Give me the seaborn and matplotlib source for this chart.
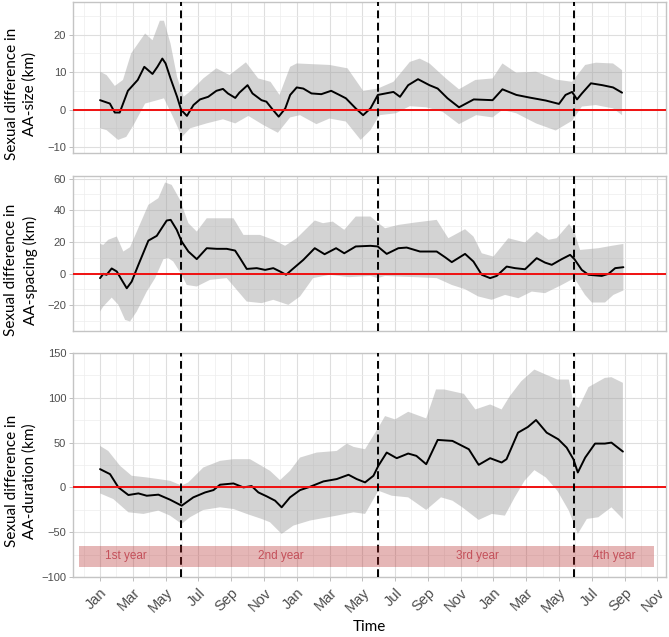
import numpy as np
import matplotlib
matplotlib.use("Agg")
import matplotlib.pyplot as plt
import seaborn as sns

# x values are months since January of the first year (0 = Jan, 12 = next Jan)

# AA-size panel
size_mean_m = [0, 0.6, 0.9, 1.2, 1.7, 2.3, 2.7, 3.2, 3.5, 3.8, 4.0, 4.3, 4.7, 4.95, 5.3,
               5.7, 6.1, 6.6, 7.1, 7.5, 7.8, 8.25, 8.5, 9.0, 9.3, 9.85, 10.15, 10.55, 10.9,
               11.3, 11.6, 12.0, 12.4, 12.9, 13.5, 14.1, 14.6, 15.0, 15.6, 16.05, 16.5,
               16.95, 17.9, 18.3, 18.8, 19.4, 20.1, 20.6, 21.2, 21.9, 22.8, 23.95, 24.55,
               25.4, 26.2, 27.2, 28.0, 28.4, 28.8, 29.1, 29.4, 29.95, 30.65, 31.3, 31.85]
size_mean = [2.5, 1.6, -0.8, -0.8, 5.0, 7.9, 11.4, 9.5, 11.4, 13.6, 12.3, 8.3, 3.4, -0.1, -1.7,
             1.2, 2.7, 3.4, 5.0, 5.5, 4.3, 3.1, 4.5, 6.5, 4.3, 2.5, 2.1, -0.1, -1.9,
             0.3, 3.9, 5.9, 5.6, 4.3, 4.1, 5.0, 3.9, 3.0, 0.3, -1.5, 0.3,
             3.9, 4.7, 3.4, 6.5, 8.1, 6.5, 5.6, 3.0, 0.6, 2.7, 2.5, 5.4,
             3.9, 3.2, 2.4, 1.5, 3.9, 4.7, 2.7, 4.3, 7.0, 6.5, 5.9, 4.5]
size_up_m = [0, 0.4, 0.9, 1.4, 1.9, 2.75, 3.2, 3.65, 3.9, 4.3, 4.7, 5.1, 5.6, 6.3, 7.1, 7.9,
             8.9, 9.65, 10.4, 10.95, 11.6, 12.0, 14.0, 15.1, 16.05, 16.95, 17.9, 18.9, 19.5,
             20.1, 21.1, 21.9, 22.9, 23.95, 24.55, 25.4, 26.6, 27.8, 28.8, 29.6, 30.25, 31.3, 31.85]
size_up = [10.1, 9.2, 6.3, 7.9, 15.0, 20.3, 18.5, 23.7, 23.7, 17.6, 8.7, 3.4, 5.2, 8.3, 11.0, 9.2,
           12.6, 8.3, 7.4, 3.9, 11.4, 12.3, 11.9, 11.0, 5.0, 5.6, 7.4, 12.7, 13.6,
           12.3, 8.3, 5.4, 7.9, 8.3, 12.3, 9.8, 10.1, 8.0, 7.4, 11.9, 12.5, 12.3, 10.5]
size_lo_m = [0, 0.4, 1.1, 1.6, 2.05, 2.75, 3.5, 3.9, 4.4, 5.0, 5.5, 6.5, 7.5, 8.25, 9.05, 9.95,
             10.85, 11.6, 12.2, 13.2, 14.0, 15.0, 15.9, 16.5, 17.05, 18.05, 18.9, 19.9, 20.9,
             21.9, 22.95, 23.95, 24.55, 25.4, 26.6, 27.8, 28.8, 29.4, 30.25, 31.3, 31.85]
size_lo = [-5.0, -5.5, -8.1, -7.3, -4.1, 1.6, 2.5, 3.0, -1.5, -7.3, -5.0, -3.7, -2.6, -3.7, -1.7, -4.1,
           -6.2, -2.1, -1.5, -3.9, -2.4, -3.2, -8.1, -5.5, -1.5, -1.0, 0.9, 0.6, -0.6,
           -3.9, -1.5, -2.1, -0.1, -1.0, -3.7, -5.6, -3.0, 0.8, 1.2, 0.3, -1.5]

# AA-spacing panel
sp_mean_m = [0, 0.2, 0.4, 0.71, 1.02, 1.32, 1.63, 1.93, 2.34, 2.95, 3.46, 3.76, 4.07, 4.31, 4.68,
             4.98, 5.39, 5.9, 6.51, 7.12, 7.73, 8.24, 8.54, 8.95, 9.56, 10.07, 10.57, 10.98, 11.35,
             11.69, 12.4, 13.1, 13.7, 14.4, 14.9, 15.6, 16.5, 16.94, 17.49, 18.2, 18.71, 19.52,
             20.54, 21.05, 21.46, 22.27, 22.78, 23.29, 23.8, 24.2, 24.81, 25.32, 25.93, 26.64,
             27.15, 27.56, 28.17, 28.68, 28.94, 29.39, 29.8, 30.61, 31.02, 31.43, 31.93]
sp_mean = [-2.9, -0.2, -0.8, 3.2, 1.3, -4.0, -9.3, -5.1, 5.5, 20.8, 23.8, 28.6, 33.5, 33.9, 27.6,
           20.2, 13.9, 9.1, 16.0, 15.6, 15.6, 14.5, 9.7, 2.9, 3.4, 2.3, 3.4, 1.3, -0.8,
           2.3, 8.6, 16.0, 12.2, 16.0, 12.8, 17.1, 17.5, 17.1, 12.4, 16.0, 16.4, 13.9,
           13.9, 10.3, 7.2, 12.4, 7.6, -0.8, -2.9, -1.5, 4.4, 3.4, 2.7, 9.7,
           6.9, 5.5, 9.1, 11.8, 9.1, 2.3, -0.8, -1.5, -0.2, 3.4, 4.0]
sp_up_m = [0, 0.2, 0.5, 1.02, 1.42, 1.83, 2.95, 3.56, 3.97, 4.37, 4.88, 5.39, 5.9, 6.51, 7.12,
           8.14, 8.75, 9.76, 10.57, 11.29, 12.0, 13.1, 13.6, 14.2, 14.9, 15.6, 16.5, 16.94, 17.39,
           18.2, 19.22, 20.54, 21.25, 22.27, 22.78, 23.29, 24.0, 24.91, 25.93, 26.64, 27.36,
           27.86, 28.62, 28.94, 29.29, 30.41, 31.22, 31.93]
sp_up = [18.7, 18.1, 21.3, 23.4, 13.9, 16.6, 43.4, 47.6, 57.5, 56.0, 46.5, 31.8, 26.5, 34.9, 34.9,
         34.9, 24.4, 24.4, 21.3, 17.5, 22.3, 33.5, 31.8, 32.8, 27.6, 36.0, 36.0, 32.2, 28.6,
         30.7, 32.2, 33.9, 22.3, 28.0, 23.4, 12.8, 10.7, 22.3, 19.6, 26.5, 21.3,
         22.3, 31.4, 25.9, 14.9, 16.0, 17.5, 18.7]
sp_lo_m = [0, 0.2, 0.71, 1.12, 1.53, 1.83, 2.24, 2.85, 3.36, 3.87, 4.17, 4.47, 4.98, 5.29, 5.9,
           6.71, 7.73, 8.34, 8.95, 9.86, 10.57, 11.49, 12.2, 13.0, 14.0, 15.2, 16.5, 16.94, 17.39,
           18.2, 19.22, 20.54, 21.46, 22.27, 23.08, 23.9, 24.71, 25.52, 26.34, 27.15, 28.17,
           28.94, 29.59, 30.0, 30.81, 31.32, 31.93]
sp_lo = [-24.0, -20.8, -15.2, -19.8, -29.3, -30.3, -24.0, -11.4, -2.9, 9.1, 9.7, 7.6, -0.8, -7.2, -8.2,
         -4.0, -2.9, -10.3, -17.7, -18.7, -16.6, -19.8, -14.5, -2.9, -0.8, -2.3, -1.5, -2.9, -1.5,
         -1.9, -2.3, -2.9, -7.2, -9.9, -14.5, -16.6, -13.5, -15.6, -11.4, -12.4, -7.2,
         -2.9, -13.5, -18.3, -18.3, -13.5, -10.7]

# AA-duration panel
dur_mean_m = [0, 0.61, 1.12, 1.73, 2.34, 2.85, 3.56, 4.27, 4.98, 5.69, 6.41, 6.92, 7.32, 8.14, 8.75,
              9.25, 9.66, 10.17, 10.68, 11.08, 11.59, 12.2, 12.81, 13.63, 14.44, 15.16, 15.66, 16.17,
              16.68, 16.98, 17.49, 18.1, 18.8, 19.3, 19.9, 20.6, 21.5, 22.5, 23.1, 23.8, 24.5, 24.8,
              25.5, 26.1, 26.6, 27.25, 27.96, 28.47, 28.88, 29.15, 29.6, 30.2, 30.8, 31.2, 31.9]
dur_mean = [20.4, 14.8, 0.0, -8.5, -6.7, -9.3, -8.1, -13.7, -20.4, -11.1, -5.6, -3.0, 3.0, 4.4, 0.0,
            1.5, -5.6, -10.0, -14.8, -22.2, -11.1, -3.0, 0.7, 6.7, 9.3, 14.1, 9.3, 5.6,
            13.0, 24.1, 38.9, 32.6, 37.8, 35.2, 25.9, 53.0, 51.9, 42.6, 25.2, 32.6, 27.8, 31.5,
            61.1, 67.4, 75.2, 61.1, 53.7, 44.4, 31.5, 16.7, 33.3, 48.9, 48.9, 50.0, 40.0]
dur_up_m = [0, 0.5, 1.22, 1.93, 2.85, 3.56, 4.27, 4.98, 5.39, 6.3, 7.32, 8.14, 9.15, 10.37, 10.98,
            11.59, 12.2, 13.22, 14.44, 15.06, 15.47, 16.17, 16.98, 17.39, 18.0, 18.8, 19.9, 20.5,
            21.0, 22.2, 22.9, 23.8, 24.5, 25.0, 25.7, 26.5, 27.2, 27.9, 28.6, 28.9, 29.2, 29.8,
            30.8, 31.2, 31.9]
dur_up = [46.3, 40.7, 24.1, 13.0, 11.1, 9.3, 7.4, 2.0, 5.6, 22.2, 29.6, 31.5, 31.5, 18.5, 8.1,
          18.5, 33.3, 38.9, 40.7, 48.9, 45.2, 42.6, 66.7, 79.6, 75.9, 84.4, 77.0, 109.3,
          109.3, 104.4, 87.0, 92.6, 87.0, 101.9, 118.5, 131.5, 125.9, 120.4, 120.4, 92.6, 88.9, 111.9,
          122.2, 123.0, 116.7]
dur_lo_m = [0, 0.81, 1.73, 2.65, 3.56, 4.27, 4.98, 5.49, 6.3, 7.32, 8.14, 8.95, 9.86, 10.37, 11.08,
            11.8, 12.81, 14.44, 15.47, 16.17, 16.98, 17.8, 18.8, 19.9, 20.8, 21.5, 22.1, 23.1, 23.9,
            24.7, 25.3, 25.9, 26.5, 27.2, 27.9, 28.6, 29.15, 29.7, 30.4, 31.2, 31.9]
dur_lo = [-6.7, -13.0, -27.8, -29.6, -25.9, -31.5, -40.7, -33.3, -25.2, -22.2, -24.1, -29.6, -35.2, -38.9, -51.9,
          -42.6, -37.0, -31.5, -27.8, -29.6, -3.7, -9.3, -11.1, -25.2, -11.1, -14.8, -22.2, -36.3, -29.6,
          -31.5, -11.1, 7.4, 19.3, 11.1, -3.7, -25.9, -51.9, -35.2, -33.3, -22.2, -35.2]

month_ticks = list(range(0, 36, 2))
month_labels = ['Jan', 'Mar', 'May', 'Jul', 'Sep', 'Nov'] * 3
breeding_breaks = [4.93, 16.93, 28.9]
year_labels = ['1st year', '2nd year', '3rd year', '4th year']
year_label_m = [1.6, 11.0, 23.0, 31.35]

panels = [
    dict(mean=(size_mean_m, size_mean), up=(size_up_m, size_up), lo=(size_lo_m, size_lo),
         title='Sexual difference in\nAA-size (km)', ylim=(-11.6, 28.7),
         major=[-10, 0, 10, 20], minor=[-5, 5, 15, 25],
         rect=[73, 2, 666, 153], title_y=94),
    dict(mean=(sp_mean_m, sp_mean), up=(sp_up_m, sp_up), lo=(sp_lo_m, sp_lo),
         title='Sexual difference in\nAA-spacing (km)', ylim=(-36.3, 61.6),
         major=[-20, 0, 20, 40, 60], minor=[-30, -10, 10, 30, 50],
         rect=[73, 176, 666, 331], title_y=270),
    dict(mean=(dur_mean_m, dur_mean), up=(dur_up_m, dur_up), lo=(dur_lo_m, dur_lo),
         title='Sexual difference in\nAA-duration (km)', ylim=(-100, 149.2),
         major=[-100, -50, 0, 50, 100, 150], minor=[-75, -25, 25, 75, 125],
         rect=[73, 353, 666, 577], title_y=481),
]

W, H = 669, 637
sns.set_theme(style="whitegrid")
plt.rcParams['font.family'] = ['Liberation Sans', 'DejaVu Sans']

fig = plt.figure(figsize=(W / 100, H / 100), dpi=100)
fig.patch.set_facecolor('white')

for i, p in enumerate(panels):
    x0, y0, x1, y1 = p['rect']
    ax = fig.add_axes([x0 / W, 1 - y1 / H, (x1 - x0) / W, (y1 - y0) / H])
    ax.set_facecolor('white')
    ax.set_axisbelow(True)

    # confidence ribbon
    up_m, up = p['up']
    lo_m, lo = p['lo']
    ax.fill(np.r_[up_m, lo_m[::-1]], np.r_[up, lo[::-1]],
            color='#a8a8a8', alpha=0.5, lw=0, zorder=1)

    mx, my = p['mean']
    sns.lineplot(x=mx, y=my, ax=ax, color='black', lw=1.4, sort=False,
                 estimator=None, zorder=3)
    ax.axhline(0, color='#f01010', lw=1.4, zorder=4)
    for b in breeding_breaks:
        ax.axvline(b, color='black', lw=1.4, ls=(0, (4, 2.3)), zorder=5)

    ax.set_xlim(-1.65, 34.53)
    ax.set_ylim(*p['ylim'])
    ax.set_xticks(month_ticks)
    ax.set_xticks(np.arange(-1, 35, 2), minor=True)
    ax.set_yticks(p['major'])
    ax.set_yticks(p['minor'], minor=True)
    ax.grid(which='major', color='#DEDEDE', lw=0.8)
    ax.grid(which='minor', color='#EDEDED', lw=0.5)
    ax.tick_params(which='minor', length=0)
    ax.tick_params(axis='y', which='major', left=True, length=2.75, width=0.6,
                   color='#B3B3B3', labelsize=8, labelcolor='#4D4D4D', pad=2.2)
    for s in ax.spines.values():
        s.set_color('#C4C4C4')
        s.set_linewidth(1.0)
    ax.set_xlabel('')
    ax.set_ylabel('')

    if i < 2:
        ax.tick_params(axis='x', which='major', bottom=False, labelbottom=False)
    else:
        ax.tick_params(axis='x', which='major', bottom=True, length=2.75, width=0.6,
                       color='#B3B3B3', labelsize=10.5, labelcolor='#4D4D4D', pad=3.5)
        ax.set_xticklabels(month_labels)
        plt.setp(ax.get_xticklabels(), rotation=45, ha='right', va='top',
                 rotation_mode='anchor')
        # year band
        ax.fill_between([-1.3, 33.8], -89, -65, color='#b22222', alpha=0.33, lw=0, zorder=6)
        for lab, xm in zip(year_labels, year_label_m):
            ax.text(xm, -77, lab, ha='center', va='center', fontsize=8.5,
                    color='#c4505a', zorder=7)

    fig.text(21 / W, 1 - p['title_y'] / H, p['title'], rotation=90, ha='center', va='center',
             fontsize=11, family=['Lato', 'DejaVu Sans'], linespacing=1.35, color='black')

fig.text(369.5 / W, 1 - 627 / H, 'Time', ha='center', va='center', fontsize=11,
         family=['Lato', 'DejaVu Sans'], color='black')

fig.savefig('out.png', dpi=100)
